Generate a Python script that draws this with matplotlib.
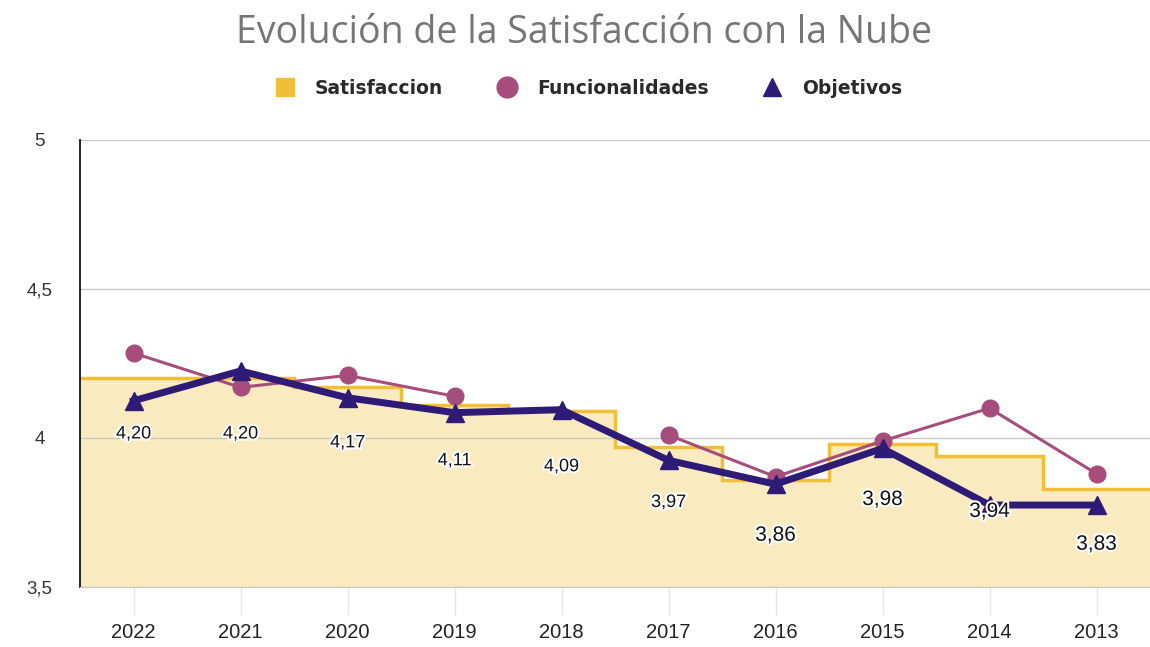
import numpy as np
import matplotlib
matplotlib.use("Agg")
import matplotlib.pyplot as plt
from matplotlib.lines import Line2D
import matplotlib.patheffects as pe

years = ["2022", "2021", "2020", "2019", "2018", "2017", "2016", "2015", "2014", "2013"]
satisfaccion = [4.20, 4.20, 4.17, 4.11, 4.09, 3.97, 3.86, 3.98, 3.94, 3.83]
funcionalidades = [4.285, 4.17, 4.21, 4.14, np.nan, 4.01, 3.87, 3.99, 4.10, 3.88]
objetivos = [4.125, 4.225, 4.135, 4.085, 4.095, 3.925, 3.845, 3.965, 3.775, 3.775]
label_texts = [f"{v:.2f}".replace(".", ",") for v in satisfaccion]
label_sizes = [13, 13, 13, 13, 13, 13, 15, 15, 15, 15]

c_fill = "#FAEABF"
c_step = "#F0BF35"
c_pink = "#A64D7C"
c_purple = "#2E1A77"

plt.rcParams["font.family"] = ["Liberation Sans", "DejaVu Sans"]

fig = plt.figure(figsize=(11.5, 6.47), dpi=100)
ax = fig.add_axes([80 / 1150, 1 - 587 / 647, 1 - 80 / 1150, (587 - 140) / 647])

x = np.arange(len(years))
edges = np.arange(len(years) + 1) - 0.5

ax.stairs(satisfaccion, edges, baseline=3.5, fill=True, color=c_fill, zorder=1)
ax.stairs(satisfaccion, edges, baseline=None, color=c_step, lw=2.5, zorder=2)
ax.plot(x, funcionalidades, color=c_pink, lw=2.2, marker="o", ms=12, zorder=3)
ax.plot(x, objetivos, color=c_purple, lw=5, marker="^", ms=13, zorder=4)

for xi, v, t, s in zip(x, satisfaccion, label_texts, label_sizes):
    ax.annotate(t, (xi, v), xytext=(0, -40), textcoords="offset points",
                ha="center", va="center", fontsize=s, color="#111111", zorder=5,
                path_effects=[pe.withStroke(linewidth=3, foreground="white")])

ax.set_xlim(-0.5, 9.5)
ax.set_ylim(3.5, 5)
ax.set_yticks([3.5, 4, 4.5, 5])
ax.set_yticklabels(["3,5", "4", "4,5", "5"])
ax.set_xticks(x)
ax.set_xticklabels(years)

ax.set_axisbelow("line")
ax.grid(axis="y", color="#c9c9c9", lw=1)
ax.tick_params(axis="y", length=0, pad=29, labelsize=13.5, labelcolor="#333333")
for lab in ax.get_yticklabels():
    lab.set_horizontalalignment("center")
ax.tick_params(axis="x", length=20, width=1, color="#e6e6e6", pad=6,
               labelsize=14.5, labelcolor="#222222")

for s in ["top", "right"]:
    ax.spines[s].set_visible(False)
ax.spines["left"].set_color("black")
ax.spines["left"].set_linewidth(1.2)
ax.spines["bottom"].set_color("#c9c9c9")

fig.text(0.508, 1 - 33 / 647, "Evolución de la Satisfacción con la Nube",
         ha="center", va="center", fontsize=27, color="#767676", family="Open Sans")

handles = [
    Line2D([], [], ls="none", marker="s", ms=13, color=c_step),
    Line2D([], [], ls="none", marker="o", ms=15, color=c_pink),
    Line2D([], [], ls="none", marker="^", ms=13, color=c_purple),
]
leg = fig.legend(handles, ["Satisfaccion", "Funcionalidades", "Objetivos"],
                 loc="center", bbox_to_anchor=(0.508, 1 - 88 / 647), ncol=3,
                 frameon=False, handletextpad=0.6, columnspacing=2.4,
                 prop={"family": "DejaVu Sans", "size": 13.5, "weight": "bold"})
for t in leg.get_texts():
    t.set_color("#2a2a2a")

fig.savefig("out.png", dpi=100)
